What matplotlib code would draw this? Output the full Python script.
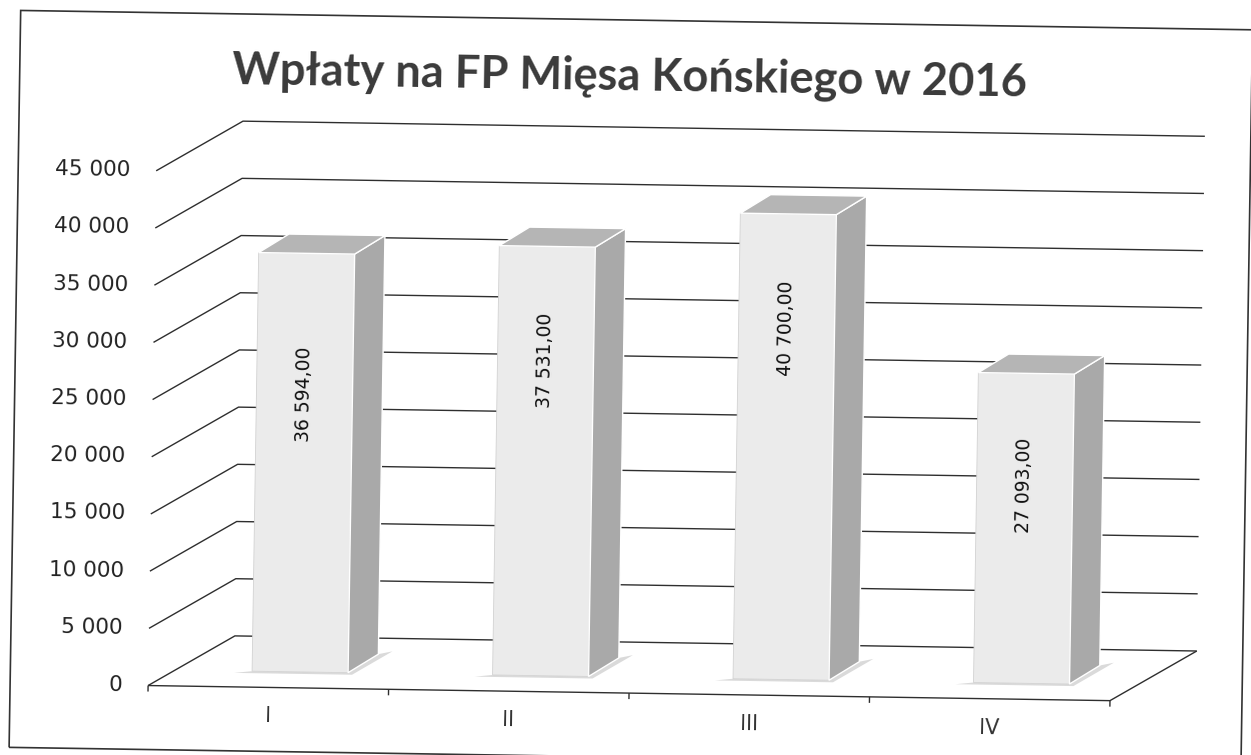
import matplotlib
matplotlib.use("Agg")
import matplotlib.pyplot as plt
import numpy as np
from matplotlib.patches import Polygon, Rectangle
from matplotlib.transforms import Affine2D

# ---------------- data ----------------
title = "Wpłaty na FP Mięsa Końskiego w 2016"
categories = ["I", "II", "III", "IV"]
values = [36594.00, 37531.00, 40700.00, 27093.00]
y_ticks = [0, 5000, 10000, 15000, 20000, 25000, 30000, 35000, 40000, 45000]

# ---------------- layout (pixels) ----------------
W, H = 1251, 755
PXC = 240.5      # pixels per category
PXV = 0.01144    # pixels per value unit
X0 = 153         # px of left edge of floor (category -0.5)
Y0 = 693         # px (from top) of front floor line
TILT = -0.9      # scan rotation (deg)
label_drop_px = [141, 114, 114, 112]

def fmt_val(v):
    return f"{v:,.2f}".replace(",", " ").replace(".", ",")

def fmt_tick(v):
    return f"{int(v):,}".replace(",", " ")

fig = plt.figure(figsize=(W / 100, H / 100), dpi=100)
fig.patch.set_facecolor("white")
ax = fig.add_axes([0, 0, 1, 1])
ax.set_axis_off()
ax.set_xlim(-0.5 - X0 / PXC, -0.5 + (W - X0) / PXC)
ax.set_ylim(-(H - Y0) / PXV, Y0 / PXV)

def dx(px):
    return px / PXC

def dy(px):
    return px / PXV

T = ax.transData + Affine2D().rotate_deg_around(W / 2, H - 377, TILT)

n = len(categories)
left, right = -0.5, n - 0.5
DX, DY = dx(86), dy(51)

grid_kw = dict(color="#2e2e2e", lw=1.0, transform=T, zorder=1,
               solid_capstyle="butt", clip_on=False)
for v in y_ticks:
    ax.plot([left, left + DX, right + DX], [v, v + DY, v + DY], **grid_kw)
# floor
ax.plot([left, right, right + DX], [0, 0, DY], **grid_kw)
for b in np.arange(left, right + 0.01, 1.0):
    ax.plot([b, b], [0, -dy(6)], **grid_kw)

text_font = "DejaVu Sans"
for v in y_ticks:
    ax.text(left - dx(26), v, fmt_tick(v), ha="right", va="center",
            fontsize=15.5, family=text_font, color="#222222",
            transform=T, rotation=TILT, rotation_mode="anchor")

for i, c in enumerate(categories):
    ax.text(i, -dy(29), c, ha="center", va="center", fontsize=15,
            family=text_font, color="#333333", transform=T,
            rotation=TILT, rotation_mode="anchor")

# ---------------- bars ----------------
off = dx(31.5)
w = dx(96)
base = dy(16)
sdx, sdy = dx(30), dy(19)
xpos = [i + off for i in range(n)]

bars = ax.bar(xpos, values, width=w, bottom=base, color="#ebebeb",
              edgecolor="#d2d2d2", linewidth=0.6, zorder=4)
for p in bars:
    p.set_transform(T)
    p.set_clip_on(False)

for i, v in enumerate(values):
    L = xpos[i] - w / 2
    R = xpos[i] + w / 2
    top = base + v
    shadow = Polygon([(L - dx(18), base - dy(2)), (R + dx(4), base - dy(2)),
                      (R + sdx + dx(14), base + sdy + dy(3)),
                      (R + sdx, base + sdy), (R, base), (L, base)],
                     closed=True, fc="#dadada", ec="none", zorder=3,
                     transform=T, clip_on=False)
    ax.add_patch(shadow)
    side = Polygon([(R, base), (R + sdx, base + sdy), (R + sdx, top + sdy), (R, top)],
                   closed=True, fc="#a9a9a9", ec="white", lw=1.0, zorder=5,
                   transform=T, clip_on=False)
    ax.add_patch(side)
    topf = Polygon([(L, top), (R, top), (R + sdx, top + sdy), (L + sdx, top + sdy)],
                   closed=True, fc="#b5b5b5", ec="white", lw=1.0, zorder=5,
                   transform=T, clip_on=False)
    ax.add_patch(topf)
    ax.text(xpos[i], top - dy(label_drop_px[i]), fmt_val(v), ha="center",
            va="center", rotation=90 + TILT, rotation_mode="anchor",
            fontsize=13.5, family=text_font, color="#111111", transform=T,
            zorder=6)

# ---------------- border ----------------
bx0 = -0.5 + (15 - X0) / PXC
bx1 = -0.5 + (1247 - X0) / PXC
by0 = (Y0 - 757) / PXV
by1 = (Y0 - 20) / PXV
ax.add_patch(Rectangle((bx0, by0), bx1 - bx0, by1 - by0, fill=False,
                       ec="#333333", lw=1.2, transform=T, clip_on=False, zorder=2))

# ---------------- title ----------------
t = ax.text(-0.5 + (625 - X0) / PXC, (Y0 - 90) / PXV, title, ha="center",
            va="baseline", family="Lato", weight="bold", fontsize=30,
            color="#3a3a3a", transform=T)
fig.canvas.draw()
r = fig.canvas.get_renderer()
wpx = t.get_window_extent(r).width
t.set_fontsize(30 * 794 / wpx)
t.set_rotation(TILT)
t.set_rotation_mode("anchor")

fig.savefig("out.png", dpi=100, facecolor="white")
